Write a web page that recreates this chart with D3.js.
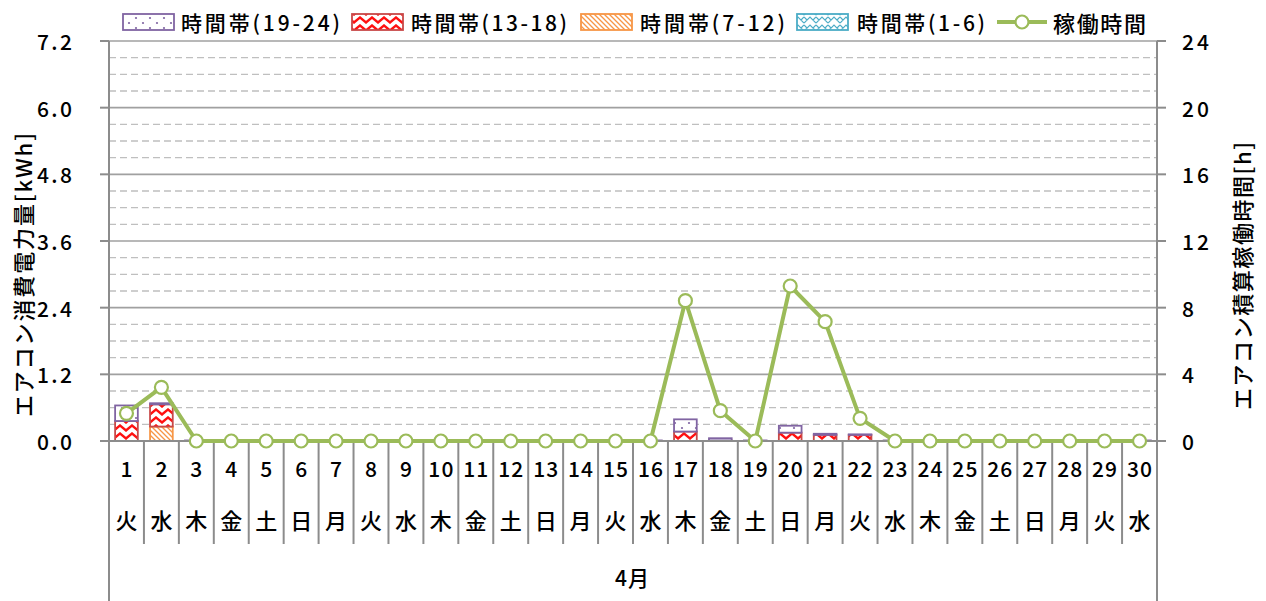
<!DOCTYPE html>
<html><head><meta charset="utf-8">
<script src="https://cdn.jsdelivr.net/npm/d3@7/dist/d3.min.js"></script>
<style>
body{margin:0;background:#fff;}
text{font-family:"Noto Sans CJK JP","Noto Sans",sans-serif;fill:#000;font-weight:500;}
</style></head>
<body><svg id="c" width="1266" height="601"></svg>
<script>
const days = d3.range(1,31);
const weekdays = ["火","水","木","金","土","日","月","火","水","木","金","土","日","月","火","水","木","金","土","日","月","火","水","木","金","土","日","月","火","水"];
// kWh per time band
const band1_6   = [0,0,0,0,0,0,0,0,0,0,0,0,0,0,0,0,0,0,0,0,0,0,0,0,0,0,0,0,0,0];
const band7_12  = [0,0.26,0,0,0,0,0,0,0,0,0,0,0,0,0,0,0,0,0,0,0,0,0,0,0,0,0,0,0,0];
const band13_18 = [0.36,0.40,0,0,0,0,0,0,0,0,0,0,0,0,0,0,0.17,0.01,0,0.15,0.11,0.11,0,0,0,0,0,0,0,0];
const band19_24 = [0.28,0.02,0.01,0.01,0.01,0.01,0.01,0.01,0.01,0.01,0.01,0.01,0.01,0.01,0.01,0.01,0.22,0.04,0.01,0.125,0.02,0.01,0.01,0.01,0.01,0.01,0.01,0.01,0.01,0.01];
// operating hours
const hours = [1.66,3.22,0,0,0,0,0,0,0,0,0,0,0,0,0,0,8.42,1.82,0,9.3,7.16,1.36,0,0,0,0,0,0,0,0];
const leftTicks = [0,1.2,2.4,3.6,4.8,6.0,7.2];
const rightTicks = [0,4,8,12,16,20,24];
const seriesNames = ["時間帯(1-6)","時間帯(7-12)","時間帯(13-18)","時間帯(19-24)"];
const lineName = "稼働時間";
const monthLabel = "4月";
const leftTitle = "エアコン消費電力量[kWh]";
const rightTitle = "エアコン積算稼働時間[h]";

const svg = d3.select("#c");
const X0=109, X1=1157, Y0=441, Y1=41;
const x = d3.scaleBand().domain(days).range([X0,X1]).paddingInner(0.35).paddingOuter(0.175);
const xs = d3.scaleBand().domain(days).range([X0,X1]).padding(0);
const yL = d3.scaleLinear().domain([0,7.2]).range([Y0,Y1]);
const yR = d3.scaleLinear().domain([0,24]).range([Y0,Y1]);

const defs = svg.append("defs");
const pDots = defs.append("pattern").attr("id","pDots").attr("patternUnits","userSpaceOnUse").attr("width",14).attr("height",10);
pDots.append("rect").attr("width",14).attr("height",10).attr("fill","#fff");
pDots.append("circle").attr("cx",3).attr("cy",3).attr("r",1.1).attr("fill","#8064A2");
pDots.append("circle").attr("cx",10).attr("cy",8).attr("r",1.1).attr("fill","#8064A2");
const pWave = defs.append("pattern").attr("id","pWave").attr("patternUnits","userSpaceOnUse").attr("width",12).attr("height",8);
pWave.append("rect").attr("width",12).attr("height",8).attr("fill","#fff");
pWave.append("path").attr("d","M-3,4.5 L0,1.5 L6,6.5 L12,1.5 L15,4.5").attr("fill","none").attr("stroke","#FF1010").attr("stroke-width",2.4);
const pDiag = defs.append("pattern").attr("id","pDiag").attr("patternUnits","userSpaceOnUse").attr("width",5).attr("height",5);
pDiag.append("rect").attr("width",5).attr("height",5).attr("fill","#fff");
pDiag.append("path").attr("d","M-1,-1 L6,6 M-1,4 L1,6 M4,-1 L6,1").attr("stroke","#F79646").attr("stroke-width",1.3);
const pTrel = defs.append("pattern").attr("id","pTrel").attr("patternUnits","userSpaceOnUse").attr("width",12).attr("height",8);
pTrel.append("rect").attr("width",12).attr("height",8).attr("fill","#fff");
pTrel.append("path").attr("d","M0,7 L6,1 L12,7 M0,1 L3,4 M12,1 L9,4").attr("fill","none").attr("stroke","#4BACC6").attr("stroke-width",1.2);

const fills = ["url(#pTrel)","url(#pDiag)","url(#pWave)","url(#pDots)"];
const strokes = ["#4BACC6","#F79646","#C84848","#8064A2"];

// grid
const minor = d3.range(0,7.2001,0.3).filter(v=>Math.abs(v/1.2-Math.round(v/1.2))>0.01);
svg.append("g").selectAll("line").data(minor).join("line")
  .attr("x1",X0).attr("x2",X1).attr("y1",d=>yL(d)).attr("y2",d=>yL(d))
  .attr("stroke","#BFBFBF").attr("stroke-width",1.4).attr("stroke-dasharray","7,4");
svg.append("g").selectAll("line").data(leftTicks.slice(1)).join("line")
  .attr("x1",X0).attr("x2",X1).attr("y1",d=>yL(d)).attr("y2",d=>yL(d))
  .attr("stroke","#A0A0A0").attr("stroke-width",1.6);

// stacked bars
const rows = days.map((d,i)=>({day:d,b0:band1_6[i],b1:band7_12[i],b2:band13_18[i],b3:band19_24[i]}));
const stack = d3.stack().keys(["b0","b1","b2","b3"])(rows);
stack.forEach((s,k)=>{
  svg.append("g").selectAll("rect").data(s.filter(p=>p[1]-p[0]>0)).join("rect")
    .attr("x",p=>x(p.data.day)).attr("width",x.bandwidth())
    .attr("y",p=>yL(p[1])).attr("height",p=>Math.max(0.5,yL(p[0])-yL(p[1])))
    .attr("fill",fills[k]).attr("stroke",strokes[k]).attr("stroke-width",1.8);
});

// axes lines
const axG = svg.append("g").attr("stroke","#8C8C8C").attr("stroke-width",2);
axG.append("line").attr("x1",X0).attr("x2",X0).attr("y1",Y1).attr("y2",601);
axG.append("line").attr("x1",X1).attr("x2",X1).attr("y1",Y1).attr("y2",601);
axG.append("line").attr("x1",X0).attr("x2",X1).attr("y1",Y0).attr("y2",Y0);
axG.selectAll(".lt").data(leftTicks).join("line").attr("x1",X0-9).attr("x2",X0).attr("y1",d=>yL(d)).attr("y2",d=>yL(d));
axG.selectAll(".rt").data(rightTicks).join("line").attr("class","rt").attr("x1",X1).attr("x2",X1+9).attr("y1",d=>yR(d)).attr("y2",d=>yR(d));
axG.selectAll(".ct").data(days.slice(1)).join("line").attr("class","ct")
  .attr("x1",d=>xs(d)).attr("x2",d=>xs(d)).attr("y1",Y0).attr("y2",544);

// tick labels
svg.append("g").selectAll("text").data(leftTicks).join("text")
  .attr("x",72).attr("y",d=>yL(d)).attr("text-anchor","end").attr("dominant-baseline","central")
  .attr("font-size",21).attr("textLength",35).attr("lengthAdjust","spacing")
  .text(d=>d.toFixed(1));
svg.append("g").selectAll("text").data(rightTicks).join("text")
  .attr("x",1182).attr("y",d=>yR(d)).attr("dominant-baseline","central")
  .attr("font-size",21).each(function(d){const t=d3.select(this); if(String(d).length>1) t.attr("textLength",27).attr("lengthAdjust","spacing");})
  .text(d=>d);
svg.append("g").selectAll("text").data(days).join("text")
  .attr("x",d=>xs(d)+xs.bandwidth()/2).attr("y",468).attr("text-anchor","middle").attr("dominant-baseline","central")
  .attr("font-size",21).each(function(d){const t=d3.select(this); if(String(d).length>1) t.attr("textLength",25).attr("lengthAdjust","spacing");})
  .text(d=>d);
svg.append("g").selectAll("text").data(days).join("text")
  .attr("x",d=>xs(d)+xs.bandwidth()/2).attr("y",519).attr("text-anchor","middle").attr("dominant-baseline","central")
  .attr("font-size",22).text((d,i)=>weekdays[i]);
svg.append("text").attr("x",632).attr("y",577).attr("text-anchor","middle").attr("dominant-baseline","central")
  .attr("font-size",21).attr("textLength",34).attr("lengthAdjust","spacing").text(monthLabel);

// axis titles
svg.append("text").attr("transform","translate(22,275) rotate(-90)").attr("text-anchor","middle").attr("dominant-baseline","central")
  .attr("font-size",22).attr("textLength",284).attr("lengthAdjust","spacing").text(leftTitle);
svg.append("text").attr("transform","translate(1241,276) rotate(-90)").attr("text-anchor","middle").attr("dominant-baseline","central")
  .attr("font-size",22).attr("textLength",268).attr("lengthAdjust","spacing").text(rightTitle);

// line
const line = d3.line().x((d,i)=>x(days[i])+x.bandwidth()/2).y(d=>yR(d));
svg.append("path").datum(hours).attr("d",line).attr("fill","none").attr("stroke","#9BBB59").attr("stroke-width",4).attr("stroke-linejoin","round");
svg.append("g").selectAll("circle").data(hours).join("circle")
  .attr("cx",(d,i)=>x(days[i])+x.bandwidth()/2).attr("cy",d=>yR(d)).attr("r",6.5)
  .attr("fill","#fff").attr("stroke","#9BBB59").attr("stroke-width",2.2);

// legend
const leg = [
  {name:seriesNames[3],k:3,sx:123,tx:181,tw:159},
  {name:seriesNames[2],k:2,sx:352,tx:411,tw:156},
  {name:seriesNames[1],k:1,sx:581,tx:640,tw:145},
  {name:seriesNames[0],k:0,sx:797,tx:857,tw:128}
];
const lg = svg.append("g");
leg.forEach(l=>{
  lg.append("rect").attr("x",l.sx).attr("y",14).attr("width",51).attr("height",16)
    .attr("fill",fills[l.k]).attr("stroke",strokes[l.k]).attr("stroke-width",1.8);
  lg.append("text").attr("x",l.tx).attr("y",22).attr("dominant-baseline","central")
    .attr("font-size",21).attr("textLength",l.tw).attr("lengthAdjust","spacing").text(l.name);
});
lg.append("line").attr("x1",997).attr("x2",1047).attr("y1",22).attr("y2",22).attr("stroke","#9BBB59").attr("stroke-width",4);
lg.append("circle").attr("cx",1022).attr("cy",22).attr("r",6.5).attr("fill","#fff").attr("stroke","#9BBB59").attr("stroke-width",2.2);
lg.append("text").attr("x",1053).attr("y",22).attr("dominant-baseline","central")
  .attr("font-size",22).attr("textLength",93).attr("lengthAdjust","spacing").text(lineName);
</script></body></html>
